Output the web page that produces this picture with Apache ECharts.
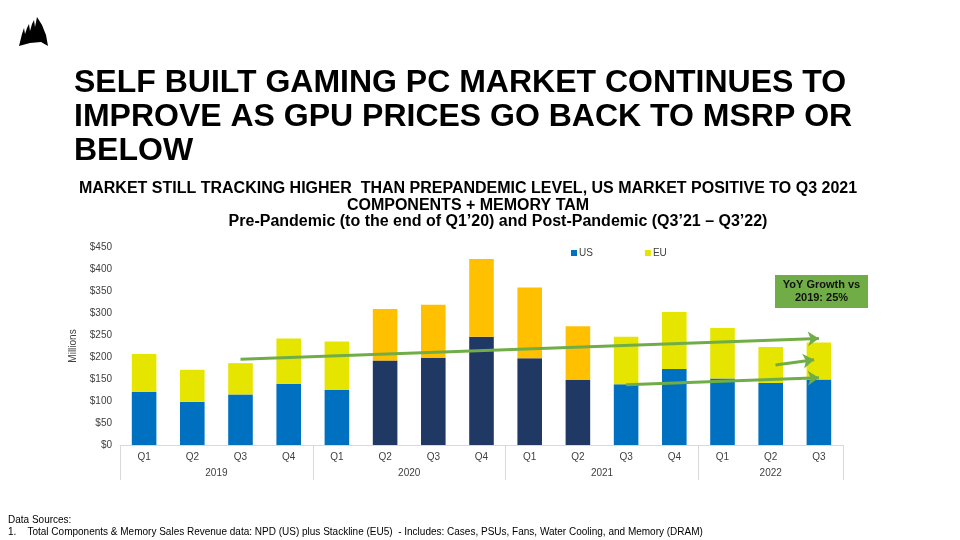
<!DOCTYPE html>
<html>
<head>
<meta charset="utf-8">
<script src="https://cdn.jsdelivr.net/npm/echarts@6/dist/echarts.min.js"></script>
<style>html,body{margin:0;padding:0;background:#fff;}#c{width:960px;height:540px;}</style>
</head>
<body>
<div id="c"></div>
<script>
// ---- data ----
var quarters = ['Q1','Q2','Q3','Q4','Q1','Q2','Q3','Q4','Q1','Q2','Q3','Q4','Q1','Q2','Q3'];
var years = ['2019','2020','2021','2022'];
var yearStarts = [0, 4, 8, 12, 15];            // category boundaries of each year
var usValues = [121, 98, 115, 139, 125, 192, 198, 246, 197, 148, 138, 173, 151, 141, 149];
var euValues = [86, 73, 71, 103, 110, 117, 121, 177, 161, 122, 108, 129, 115, 82, 84];
var pandemicIdx = [5, 6, 7, 8, 9];             // Q2'20 .. Q2'21
var trendArrows = [
  [[2.5, 195], [14.5, 242]],
  [[10.5, 137], [14.5, 153]],
  [[13.6, 182], [14.4, 194]]
];
var yoyText = 'YoY Growth vs\n2019: 25%';

// ---- style ----
var C_US = '#0070C0', C_EU = '#E5E500', C_US_P = '#203864', C_EU_P = '#FFC000', C_GREEN = '#70AD47';
var FONT = 'Liberation Sans, Arial, sans-serif';
var AX = '#404040';

function items(vals, normal, pand) {
  return vals.map(function (v, i) {
    return pandemicIdx.indexOf(i) >= 0 ? { value: v, itemStyle: { color: pand } } : v;
  });
}
var yearCenters = years.map(function (y, i) { return (yearStarts[i] + yearStarts[i + 1]) / 2; });

var chart = echarts.init(document.getElementById('c'));
chart.setOption({
  animation: false,
  textStyle: { fontFamily: FONT },
  title: [
    { text: 'SELF BUILT GAMING PC MARKET CONTINUES TO\nIMPROVE AS GPU PRICES GO BACK TO MSRP OR\nBELOW',
      left: 74, top: 66, padding: 0,
      textStyle: { fontFamily: FONT, fontSize: 32, fontWeight: 'bold', color: '#000', lineHeight: 34 } },
    { text: 'MARKET STILL TRACKING HIGHER  THAN PREPANDEMIC LEVEL, US MARKET POSITIVE TO Q3 2021\nCOMPONENTS + MEMORY TAM',
      left: 468, top: 180, textAlign: 'center', padding: 0,
      textStyle: { fontFamily: FONT, fontSize: 16, fontWeight: 'bold', color: '#000', lineHeight: 17, align: 'center' } },
    { text: 'Pre-Pandemic (to the end of Q1\u201920) and Post-Pandemic (Q3\u201921 \u2013 Q3\u201922)',
      left: 498, top: 214, textAlign: 'center', padding: 0,
      textStyle: { fontFamily: FONT, fontSize: 16, fontWeight: 'bold', color: '#000' } },
    { text: 'Data Sources:\n1.    Total Components & Memory Sales Revenue data: NPD (US) plus Stackline (EU5)  - Includes: Cases, PSUs, Fans, Water Cooling, and Memory (DRAM)',
      left: 8, top: 514, padding: 0,
      textStyle: { fontFamily: FONT, fontSize: 10, fontWeight: 'normal', color: '#000', lineHeight: 12 } }
  ],
  legend: {
    data: ['US', 'EU'], left: 566, top: 243, icon: 'rect', itemWidth: 6, itemHeight: 6, itemGap: 52,
    textStyle: { fontSize: 10, color: AX, padding: [0, 0, 0, -3] }
  },
  grid: { left: 120, right: 117, top: 247, bottom: 95, containLabel: false },
  xAxis: [
    { type: 'category', data: quarters, axisLine: { lineStyle: { color: '#D9D9D9' } },
      axisTick: { show: false }, axisLabel: { color: AX, fontSize: 10, margin: 7 } },
    { type: 'value', min: 0, max: 15, position: 'bottom', axisLine: { show: false }, splitLine: { show: false },
      axisTick: { show: true, customValues: yearStarts, length: 35, lineStyle: { color: '#D9D9D9' } },
      axisLabel: { customValues: yearCenters, color: AX, fontSize: 10, margin: 23,
        formatter: function (v) { return years[yearCenters.indexOf(v)] || ''; } } }
  ],
  yAxis: {
    type: 'value', min: 0, max: 450, interval: 50, name: 'Millions', nameLocation: 'middle', nameGap: 42,
    nameTextStyle: { color: AX, fontSize: 10 }, axisLine: { show: false }, axisTick: { show: false },
    splitLine: { show: false }, axisLabel: { color: AX, fontSize: 10, margin: 8, formatter: function (v) { return '$' + v; } }
  },
  series: [
    { name: 'US', type: 'bar', stack: 't', barWidth: '51%', itemStyle: { color: C_US }, data: items(usValues, C_US, C_US_P) },
    { name: 'EU', type: 'bar', stack: 't', barWidth: '51%', itemStyle: { color: C_EU }, data: items(euValues, C_EU, C_EU_P) },
    { name: 'trend', type: 'line', xAxisIndex: 1, data: [], silent: true,
      markLine: { silent: true, symbol: ['none', 'arrow'], symbolSize: 11,
        lineStyle: { color: C_GREEN, width: 3, type: 'solid' }, label: { show: false },
        data: trendArrows.map(function (a) { return [{ coord: a[0] }, { coord: a[1] }]; }) } }
  ],
  graphic: [
    { type: 'rect', x: 775, y: 275, shape: { width: 93, height: 33 }, style: { fill: C_GREEN } },
    { type: 'text', x: 821.5, y: 291.5,
      style: { text: yoyText, font: 'bold 11px ' + FONT, fill: '#111', align: 'center', verticalAlign: 'middle', lineHeight: 13 } },
    { type: 'polygon', shape: { points: [[19,46],[22,34],[24,28],[25,34],[27,28],[29,24],[30,31],[32,24],[34,20],[35,27],[37,17],[42,25],[46,35],[48,46],[41,42],[30,43]] },
      style: { fill: '#000' } }
  ]
});
</script>
</body>
</html>
